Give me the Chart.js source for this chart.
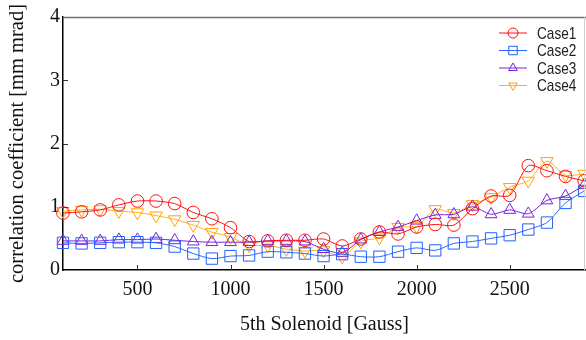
<!DOCTYPE html>
<html lang="en">
<head>
<meta charset="UTF-8">
<title>correlation coefficient vs 5th Solenoid</title>
<script src="https://cdn.jsdelivr.net/npm/chart.js@4.4.0/dist/chart.umd.min.js"></script>
<style>
  html, body { margin: 0; padding: 0; background: #fff; }
  #wrap { width: 586px; height: 340px; }
</style>
</head>
<body>
<div id="wrap"><canvas id="chart" width="586" height="340"></canvas></div>
<script>
// solenoid current steps [Gauss]
var solenoid = [100, 200, 300, 400, 500, 600, 700, 800, 900, 1000,
                1100, 1200, 1300, 1400, 1500, 1600, 1700, 1800, 1900, 2000,
                2100, 2200, 2300, 2400, 2500, 2600, 2700, 2800, 2900];

var case1 = [0.90, 0.92, 0.95, 1.03, 1.09, 1.09, 1.05, 0.91, 0.81, 0.67,
             0.45, 0.46, 0.47, 0.47, 0.49, 0.38, 0.49, 0.60, 0.57, 0.68,
             0.72, 0.71, 0.97, 1.17, 1.18, 1.65, 1.57, 1.48, 1.41];
var case2 = [0.43, 0.42, 0.43, 0.44, 0.44, 0.43, 0.37, 0.26, 0.18, 0.22,
             0.23, 0.29, 0.28, 0.26, 0.22, 0.25, 0.21, 0.21, 0.29, 0.35,
             0.31, 0.42, 0.45, 0.50, 0.55, 0.64, 0.75, 1.06, 1.25];
var case3 = [0.46, 0.46, 0.46, 0.48, 0.48, 0.49, 0.47, 0.45, 0.44, 0.44,
             0.44, 0.46, 0.46, 0.45, 0.33, 0.27, 0.48, 0.60, 0.68, 0.78,
             0.87, 0.88, 1.00, 0.88, 0.95, 0.89, 1.10, 1.17, 1.34];
var case4 = [0.93, 0.95, 0.96, 0.93, 0.91, 0.86, 0.80, 0.71, 0.60, 0.52,
             0.39, 0.39, 0.33, 0.30, 0.31, 0.21, 0.45, 0.51, 0.68, 0.69,
             0.96, 0.90, 1.04, 1.15, 1.31, 1.41, 1.72, 1.50, 1.52];

var seriesNames = ['Case1', 'Case2', 'Case3', 'Case4'];
var xTicks = [500, 1000, 1500, 2000, 2500];
var yTicks = [0, 1, 2, 3, 4];

function pts(arr) {
  return solenoid.map(function (x, i) { return { x: x, y: arr[i] }; });
}

function makeSet(label, arr, color, lineColor, style, radius, rotation) {
  return {
    label: label,
    data: pts(arr),
    borderColor: lineColor,
    backgroundColor: 'rgba(0,0,0,0)',
    borderWidth: 1,
    pointStyle: style,
    pointRadius: radius,
    pointRotation: rotation,
    pointBorderColor: color,
    pointBackgroundColor: 'rgba(0,0,0,0)',
    pointBorderWidth: 1,
    tension: 0.25,
    clip: false
  };
}

// inward tick marks, grey frame on top/right, legend inside the plot
var framePlugin = {
  id: 'frame',
  afterDatasetsDraw: function (chart) {
    var ctx = chart.ctx, a = chart.chartArea;
    var xs = chart.scales.x, ys = chart.scales.y;
    ctx.save();
    ctx.strokeStyle = '#333';
    ctx.lineWidth = 1;
    ctx.beginPath();
    xTicks.forEach(function (v) {
      var px = Math.round(xs.getPixelForValue(v)) + 0.5;
      ctx.moveTo(px, a.bottom); ctx.lineTo(px, a.bottom - 5);
    });
    yTicks.slice(1, 4).forEach(function (v) {
      var py = Math.round(ys.getPixelForValue(v)) + 0.5;
      ctx.moveTo(a.left, py); ctx.lineTo(a.left + 5, py);
    });
    ctx.stroke();
    ctx.strokeStyle = '#6f6f6f';
    ctx.lineWidth = 1.5;
    ctx.beginPath();
    ctx.moveTo(a.left, a.top + 0.5); ctx.lineTo(a.right, a.top + 0.5);
    ctx.stroke();
    ctx.strokeStyle = '#cfcfcf';
    ctx.lineWidth = 1;
    ctx.beginPath();
    ctx.moveTo(a.right - 1.5, a.top); ctx.lineTo(a.right - 1.5, a.bottom);
    ctx.stroke();

    // legend
    var lx = a.right - 87, ly = a.top + 16;
    chart.data.datasets.forEach(function (ds, i) {
      var y = ly + i * 17.5;
      ctx.strokeStyle = ds.borderColor;
      ctx.lineWidth = 1;
      ctx.beginPath();
      ctx.moveTo(lx, y); ctx.lineTo(lx + 28, y);
      ctx.stroke();
      ctx.strokeStyle = ds.pointBorderColor;
      ctx.fillStyle = 'rgba(0,0,0,0)';
      Chart.helpers.drawPoint(ctx, {
        pointStyle: ds.pointStyle,
        radius: ds.pointStyle === 'rect' ? 6 : 5,
        rotation: ds.pointRotation,
        borderWidth: 1
      }, lx + 14, y);
      ctx.save();
      ctx.translate(lx + 38, y + 1);
      ctx.scale(0.8, 1);
      ctx.fillStyle = '#222';
      ctx.font = '17px "Liberation Sans", sans-serif';
      ctx.textBaseline = 'middle';
      ctx.textAlign = 'left';
      ctx.fillText(ds.label, 0, 0);
      ctx.restore();
    });
    ctx.restore();
  }
};

var serif = '"Liberation Serif", "Times New Roman", serif';

new Chart(document.getElementById('chart').getContext('2d'), {
  type: 'line',
  data: {
    datasets: [
      makeSet(seriesNames[0], case1, '#ff1010', '#ff1010', 'circle', 6.3, 0),
      makeSet(seriesNames[1], case2, '#2060ff', '#2a66ff', 'rect', 8, 0),
      makeSet(seriesNames[2], case3, '#7a22dc', '#7a22dc', 'triangle', 6.8, 0),
      makeSet(seriesNames[3], case4, '#ffa300', '#ffb020', 'triangle', 7.2, 180)
    ]
  },
  options: {
    responsive: false,
    animation: false,
    layout: { autoPadding: false, padding: { top: 17, right: 0, left: 0, bottom: 0 } },
    plugins: {
      legend: { display: false },
      tooltip: { enabled: false }
    },
    scales: {
      x: {
        type: 'linear',
        min: 100,
        max: 2910,
        afterBuildTicks: function (s) { s.ticks = xTicks.map(function (v) { return { value: v }; }); },
        afterFit: function (s) { s.height = 70; s.paddingRight = 0; s.paddingLeft = 0; },
        grid: { display: false, drawTicks: false },
        border: { display: true, color: '#000', width: 1.5 },
        ticks: {
          color: '#111',
          padding: 8,
          maxRotation: 0,
          font: { family: serif, size: 20 },
          callback: function (v) { return String(v); }
        },
        title: {
          display: true,
          text: '5th Solenoid [Gauss]',
          color: '#111',
          font: { family: serif, size: 20 },
          padding: { top: 0, bottom: 3 }
        }
      },
      y: {
        min: 0,
        max: 4,
        afterBuildTicks: function (s) { s.ticks = yTicks.map(function (v) { return { value: v }; }); },
        afterFit: function (s) { s.width = 63; },
        grid: { display: false, drawTicks: false },
        border: { display: true, color: '#000', width: 1.5 },
        ticks: {
          color: '#111',
          padding: 3,
          font: { family: serif, size: 20 },
          callback: function (v) { return String(v); }
        },
        title: {
          display: true,
          text: 'correlation coefficient [mm mrad]',
          color: '#111',
          font: { family: serif, size: 20.5 },
          padding: { top: 5, bottom: 0 }
        }
      }
    }
  },
  plugins: [framePlugin]
});
</script>
</body>
</html>
